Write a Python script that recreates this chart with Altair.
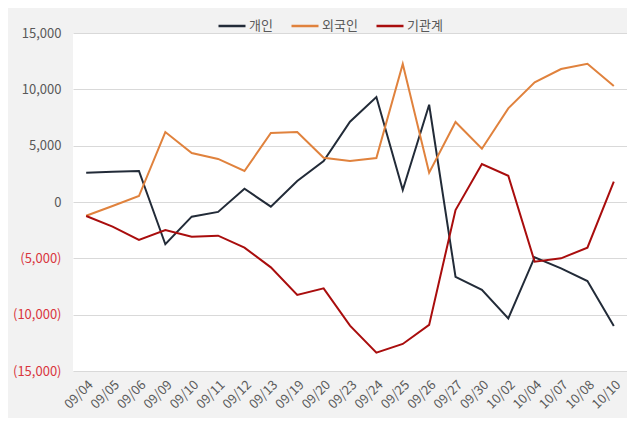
import altair as alt
import pandas as pd

dates = ["09/04", "09/05", "09/06", "09/09", "09/10", "09/11", "09/12", "09/13", "09/19", "09/20",
         "09/23", "09/24", "09/25", "09/26", "09/27", "09/30", "10/02", "10/04", "10/07", "10/08", "10/10"]
individual = [2600, 2680, 2750, -3750, -1300, -880, 1180, -410, 1860, 3640,
              7130, 9320, 1060, 8630, -6650, -7800, -10330, -4900, -5890, -7010, -11000]
foreign = [-1220, -350, 530, 6210, 4350, 3820, 2750, 6120, 6210, 3930,
           3640, 3900, 12245, 2600, 7100, 4730, 8310, 10620, 11800, 12270, 10290]
institution = [-1240, -2190, -3370, -2480, -3080, -2990, -4050, -5800, -8250, -7660,
               -10970, -13370, -12600, -10910, -710, 3370, 2330, -5300, -5000, -4050, 1800]
series = ["개인", "외국인", "기관계"]
colors = ["#222b38", "#e0823d", "#a90d0d"]

rows = []
for name, vals in zip(series, [individual, foreign, institution]):
    for d, v in zip(dates, vals):
        rows.append({"date": d, "series": name, "value": v})
df = pd.DataFrame(rows)

font = "Noto Sans CJK KR"

chart = alt.Chart(df).mark_line(strokeWidth=2).encode(
    x=alt.X("date:O", sort=dates, title=None,
            axis=alt.Axis(labelAngle=-45, labelFontSize=13, labelColor="#595959", ticks=False,
                          domain=False, grid=False, labelPadding=7, labelFont=font)),
    y=alt.Y("value:Q", title=None, scale=alt.Scale(domain=[-15000, 15000], nice=False),
            axis=alt.Axis(values=[-15000, -10000, -5000, 0, 5000, 10000, 15000],
                          labelExpr="datum.value < 0 ? '(' + format(-datum.value, ',') + ')' : format(datum.value, ',')",
                          labelColor=alt.condition("datum.value < 0", alt.value("#d9363e"), alt.value("#595959")),
                          labelFontSize=13, labelPadding=12, ticks=False, domain=False,
                          gridColor="#d9d9d9", labelFont=font)),
    color=alt.Color("series:N", sort=series,
                    scale=alt.Scale(domain=series, range=colors),
                    legend=alt.Legend(title=None, orient="none", legendX=144, legendY=-22,
                                      direction="horizontal", symbolType="stroke",
                                      symbolSize=729, symbolStrokeWidth=2.5,
                                      labelFontSize=13, labelColor="#595959", labelFont=font,
                                      columnPadding=13, labelOffset=2)),
).properties(
    width=554, height=338,
    background="#f2f2f2",
    padding={"left": 65, "top": 25, "right": 0, "bottom": 47},
    autosize=alt.AutoSizeParams(type="none"),
).configure_view(fill="white", stroke=None)

chart.save("out.html", embed_options={"renderer": "svg", "actions": False})
